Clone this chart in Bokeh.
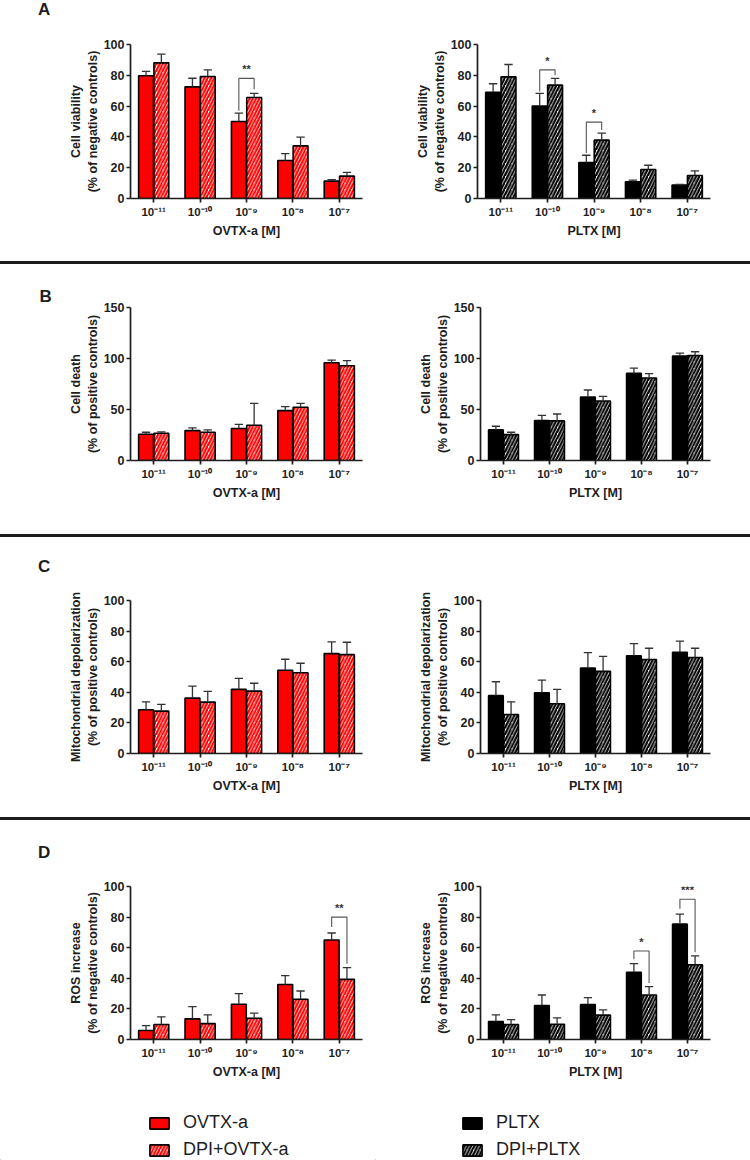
from bokeh.plotting import figure
from bokeh.layouts import column, row
from bokeh.models import (Range1d, FixedTicker, Div, Legend, LegendItem,
                          ColumnDataSource)
from bokeh.core.properties import value
from bokeh.embed import file_html
from bokeh.resources import INLINE

# ---------------------------------------------------------------- data
doses = ["10⁻¹¹", "10⁻¹⁰", "10⁻⁹", "10⁻⁸", "10⁻⁷"]

# A: cell viability (% of negative controls)
viab_ovtx = [79.7, 72.5, 50.0, 24.7, 11.3]
viab_ovtx_err = [2.8, 5.6, 5.4, 4.5, 1.0]
viab_dpi_ovtx = [88.1, 79.2, 65.6, 34.2, 14.5]
viab_dpi_ovtx_err = [5.6, 4.3, 2.6, 5.6, 2.4]
viab_pltx = [69.0, 60.0, 23.4, 10.8, 8.7]
viab_pltx_err = [5.5, 8.2, 4.7, 1.1, 0.4]
viab_dpi_pltx = [79.0, 73.6, 37.9, 18.8, 14.9]
viab_dpi_pltx_err = [8.0, 4.4, 4.5, 2.8, 3.1]

# B: cell death (% of positive controls)
death_ovtx = [25.8, 29.3, 31.3, 48.9, 95.9]
death_ovtx_err = [1.9, 2.7, 4.2, 3.9, 2.6]
death_dpi_ovtx = [26.7, 27.7, 34.6, 52.2, 92.9]
death_dpi_ovtx_err = [1.3, 2.3, 21.4, 3.8, 5.1]
death_pltx = [30.0, 39.1, 62.3, 85.4, 102.4]
death_pltx_err = [3.6, 5.2, 6.8, 5.2, 2.9]
death_dpi_pltx = [25.4, 38.8, 58.4, 80.9, 103.0]
death_dpi_pltx_err = [2.3, 6.8, 4.5, 4.2, 3.6]

# C: mitochondrial depolarization (% of positive controls)
mito_ovtx = [28.6, 36.2, 41.9, 54.4, 65.3]
mito_ovtx_err = [5.2, 7.9, 7.2, 7.2, 7.6]
mito_dpi_ovtx = [27.7, 33.6, 40.8, 52.8, 64.6]
mito_dpi_ovtx_err = [4.4, 7.0, 5.1, 6.2, 8.1]
mito_pltx = [37.8, 39.7, 55.9, 63.8, 66.2]
mito_pltx_err = [9.1, 8.3, 10.0, 8.0, 7.2]
mito_dpi_pltx = [25.5, 32.5, 53.7, 61.4, 62.7]
mito_dpi_pltx_err = [8.3, 9.4, 9.8, 7.4, 6.1]

# D: ROS increase (% of negative controls)
ros_ovtx = [5.9, 13.5, 23.0, 35.9, 65.0]
ros_ovtx_err = [3.2, 8.0, 7.0, 5.8, 4.6]
ros_dpi_ovtx = [9.8, 10.4, 13.9, 26.3, 39.3]
ros_dpi_ovtx_err = [5.0, 5.7, 3.3, 5.4, 7.7]
ros_pltx = [11.7, 22.2, 22.8, 43.9, 75.4]
ros_pltx_err = [4.4, 6.9, 4.6, 5.7, 6.6]
ros_dpi_pltx = [9.8, 10.0, 15.9, 29.1, 48.9]
ros_dpi_pltx_err = [3.2, 4.1, 3.4, 5.5, 5.7]

# significance brackets: (dose index, bracket top, left leg end, right leg end, label)
sig_viab_ovtx = [(2, 78.0, 57.0, 71.0, "**")]
sig_viab_pltx = [(1, 83.5, 69.5, 80.0, "*"), (2, 49.6, 29.5, 44.5, "*")]
sig_ros_ovtx = [(4, 80.0, 73.5, 49.5, "**")]
sig_ros_pltx = [(3, 57.8, 52.5, 37.0, "*"), (4, 91.7, 85.5, 57.0, "***")]

# ---------------------------------------------------------------- style
RED = "#ff0000"
BLACK = "#000000"
INK = "#1e1e1e"
FONT = "Liberation Sans"
OFF = 0.165     # half distance between paired bars
BW = 0.32       # bar width
CAP = 0.09      # half width of whisker caps
HATCH = dict(hatch_pattern="/", hatch_scale=6.5, hatch_weight=2.2)


def panel(toxin, toxin_err, dpi, dpi_err, color, ymax, yticks, ylabel, xlabel,
          height, top, bottom, left, right, sig=(), letter=None):
    p = figure(width=375, height=height, x_range=Range1d(-0.5, 4.5),
               y_range=Range1d(0, ymax), output_backend="svg",
               toolbar_location=None, min_border_top=top,
               min_border_bottom=bottom, min_border_left=left,
               min_border_right=right)
    p.grid.visible = False
    p.outline_line_color = None
    p.background_fill_color = "white"
    p.border_fill_color = "white"

    xs = list(range(len(doses)))
    src = ColumnDataSource(dict(
        xa=[x - OFF for x in xs], xb=[x + OFF for x in xs],
        xa0=[x - OFF - CAP for x in xs], xa1=[x - OFF + CAP for x in xs],
        xb0=[x + OFF - CAP for x in xs], xb1=[x + OFF + CAP for x in xs],
        t=toxin, te=[v + e for v, e in zip(toxin, toxin_err)],
        d=dpi, de=[v + e for v, e in zip(dpi, dpi_err)],
    ))
    p.vbar(x="xa", top="t", bottom=0, width=BW, fill_color=color,
           line_color="black", line_width=1.6, source=src)
    p.vbar(x="xb", top="d", bottom=0, width=BW, fill_color="white",
           hatch_color=color, line_color="black", line_width=1.6,
           source=src, **HATCH)

    # upper error whiskers
    wk = dict(line_color="#333333", line_width=1.3, source=src)
    p.segment(x0="xa", y0="t", x1="xa", y1="te", **wk)
    p.segment(x0="xa0", y0="te", x1="xa1", y1="te", **wk)
    p.segment(x0="xb", y0="d", x1="xb", y1="de", **wk)
    p.segment(x0="xb0", y0="de", x1="xb1", y1="de", **wk)

    # significance brackets
    if sig:
        bx, by, sx, sy, st = [], [], [], [], []
        for i, ytop, yl, yr, lab in sig:
            bx.append([i - OFF, i - OFF, i + OFF, i + OFF])
            by.append([yl, ytop, ytop, yr])
            sx.append(i)
            sy.append(ytop + 0.02 * ymax)
            st.append(lab)
        p.multi_line(xs=bx, ys=by, line_color="#555555", line_width=1.1)
        p.text(x=sx, y=sy, text=st, text_align="center",
               text_baseline="bottom", text_font=value(FONT),
               text_font_style="bold", text_font_size="11px",
               text_color="#333333")

    # axes
    xa_ = p.xaxis[0]
    xa_.ticker = FixedTicker(ticks=xs)
    xa_.major_label_overrides = {x: doses[x] for x in xs}
    xa_.axis_label = xlabel
    ya_ = p.yaxis[0]
    ya_.ticker = FixedTicker(ticks=yticks)
    ya_.axis_label = ylabel
    for ax in (xa_, ya_):
        ax.axis_line_width = 1.7
        ax.axis_line_color = INK
        ax.major_tick_line_width = 1.7
        ax.major_tick_line_color = INK
        ax.major_tick_out = 4
        ax.major_tick_in = 0
        ax.minor_tick_line_color = None
        ax.major_label_text_font = FONT
        ax.major_label_text_font_style = "bold"
        ax.major_label_text_color = INK
        ax.axis_label_text_font = FONT
        ax.axis_label_text_font_style = "bold"
        ax.axis_label_text_font_size = "12.5px"
        ax.axis_label_text_color = INK
    xa_.major_label_text_font_size = "11.5px"
    xa_.major_label_standoff = 3
    xa_.axis_label_standoff = 3
    ya_.major_label_text_font_size = "12.5px"
    ya_.major_label_standoff = 2
    ya_.axis_label_standoff = 1

    # panel letter in the title slot, pulled out to the left margin
    if letter is not None:
        txt, standoff = letter
        p.title.text = txt
        p.title.align = "left"
        p.title.offset = -91
        p.title.standoff = standoff
        p.title.text_font = FONT
        p.title.text_font_style = "bold"
        p.title.text_font_size = "17px"
        p.title.text_color = INK
    return p


def letter_strip(txt, height, pad_top):
    html = (f'<div style="padding:{pad_top}px 0 0 38px;font-family:{FONT};'
            f'font-weight:bold;font-size:17px;line-height:20px;color:{INK}">'
            f'{txt}</div>')
    return Div(text=html, width=750, height=height, margin=0,
               styles={"overflow": "hidden"})


def sep():
    return Div(width=750, height=3, margin=0,
               styles={"background-color": "#1c1c1c"})


VIAB = "Cell viability\n(% of negative controls)"
DEATH = "Cell death\n(% of positive controls)"
MITO = "Mitochondrial depolarization\n(% of positive controls)"
ROS = "ROS increase\n(% of negative controls)"
T100 = [0, 20, 40, 60, 80, 100]
T150 = [0, 50, 100, 150]

a1 = panel(viab_ovtx, viab_ovtx_err, viab_dpi_ovtx, viab_dpi_ovtx_err, RED,
           100, T100, VIAB, "OVTX-a [M]", 241, 24, 63, 130, 13, sig_viab_ovtx)
a2 = panel(viab_pltx, viab_pltx_err, viab_dpi_pltx, viab_dpi_pltx_err, BLACK,
           100, T100, VIAB, "PLTX [M]", 241, 24, 63, 102, 40, sig_viab_pltx)

b1 = panel(death_ovtx, death_ovtx_err, death_dpi_ovtx, death_dpi_ovtx_err, RED,
           150, T150, DEATH, "OVTX-a [M]", 270, 43, 74, 130, 13,
           letter=("B", 4))
b2 = panel(death_pltx, death_pltx_err, death_dpi_pltx, death_dpi_pltx_err, BLACK,
           150, T150, DEATH, "PLTX [M]", 270, 43, 74, 105, 40)

c1 = panel(mito_ovtx, mito_ovtx_err, mito_dpi_ovtx, mito_dpi_ovtx_err, RED,
           100, T100, MITO, "OVTX-a [M]", 238, 21, 64, 130, 13)
c2 = panel(mito_pltx, mito_pltx_err, mito_dpi_pltx, mito_dpi_pltx_err, BLACK,
           100, T100, MITO, "PLTX [M]", 238, 21, 64, 105, 40)

d1 = panel(ros_ovtx, ros_ovtx_err, ros_dpi_ovtx, ros_dpi_ovtx_err, RED,
           100, T100, ROS, "OVTX-a [M]", 220, 21, 46, 130, 13, sig_ros_ovtx)
d2 = panel(ros_pltx, ros_pltx_err, ros_dpi_pltx, ros_dpi_pltx_err, BLACK,
           100, T100, ROS, "PLTX [M]", 220, 21, 46, 105, 40, sig_ros_pltx)


def legend_box(color, labels, gx):
    p = figure(width=375, height=75, x_range=Range1d(0, 1), y_range=Range1d(0, 1),
               x_axis_type=None, y_axis_type=None, output_backend="svg",
               toolbar_location=None, min_border=0)
    p.grid.visible = False
    p.outline_line_color = None
    # swatch renderers sit outside the visible range; only their legend shows
    r1 = p.vbar(x=[-5], top=[-5], bottom=-6, width=0.1, fill_color=color,
                line_color="black", line_width=1.6)
    r2 = p.vbar(x=[-5], top=[-5], bottom=-6, width=0.1, fill_color="white",
                hatch_color=color, line_color="black", line_width=1.6, **HATCH)
    leg = Legend(items=[LegendItem(label=labels[0], renderers=[r1]),
                        LegendItem(label=labels[1], renderers=[r2])],
                 location=(gx, 0), orientation="vertical",
                 glyph_width=24, glyph_height=14, label_height=16,
                 label_standoff=12, spacing=6, padding=0, margin=0,
                 border_line_color=None, background_fill_alpha=0,
                 label_text_font=FONT, label_text_font_size="18px",
                 label_text_color=INK)
    p.add_layout(leg)
    return p


l1 = legend_box(RED, ["OVTX-a", "DPI+OVTX-a"], 147)
l2 = legend_box(BLACK, ["PLTX", "DPI+PLTX"], 85)

layout = column(letter_strip("A", 20, 0), row(a1, a2), sep(),
                row(b1, b2), sep(),
                letter_strip("C", 42, 20), row(c1, c2), sep(),
                letter_strip("D", 45, 23), row(d1, d2),
                row(l1, l2))

open("out.html", "w").write(file_html(layout, INLINE))
